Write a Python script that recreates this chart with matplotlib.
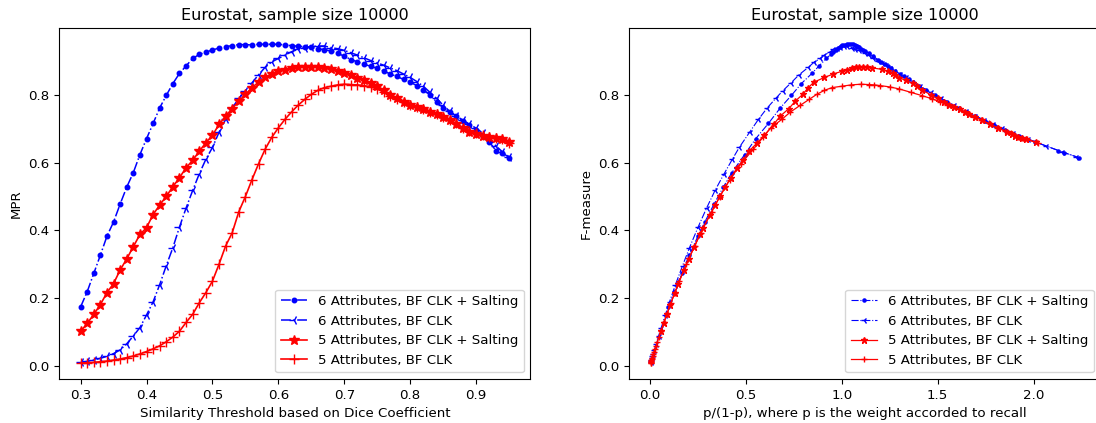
import matplotlib
matplotlib.use("Agg")
import matplotlib.pyplot as plt

# similarity thresholds (Dice coefficient)
thresholds = [0.30, 0.31, 0.32, 0.33, 0.34, 0.35, 0.36, 0.37, 0.38, 0.39,
              0.40, 0.41, 0.42, 0.43, 0.44, 0.45, 0.46, 0.47, 0.48, 0.49,
              0.50, 0.51, 0.52, 0.53, 0.54, 0.55, 0.56, 0.57, 0.58, 0.59,
              0.60, 0.61, 0.62, 0.63, 0.64, 0.65, 0.66, 0.67, 0.68, 0.69,
              0.70, 0.71, 0.72, 0.73, 0.74, 0.75, 0.76, 0.77, 0.78, 0.79,
              0.80, 0.81, 0.82, 0.83, 0.84, 0.85, 0.86, 0.87, 0.88, 0.89,
              0.90, 0.91, 0.92, 0.93, 0.94, 0.95]

# 6 attributes, BF CLK + salting
six_salt_f = [0.174, 0.219, 0.273, 0.327, 0.383, 0.425, 0.478, 0.528, 0.571, 0.624,
              0.671, 0.716, 0.762, 0.799, 0.834, 0.864, 0.886, 0.908, 0.920, 0.927,
              0.933, 0.939, 0.943, 0.946, 0.949, 0.949, 0.948, 0.950, 0.950, 0.950,
              0.950, 0.948, 0.946, 0.944, 0.943, 0.941, 0.937, 0.934, 0.930, 0.923,
              0.915, 0.905, 0.898, 0.891, 0.885, 0.879, 0.871, 0.862, 0.855, 0.846,
              0.838, 0.828, 0.816, 0.800, 0.780, 0.762, 0.750, 0.738, 0.724, 0.712,
              0.698, 0.680, 0.662, 0.636, 0.630, 0.615]
six_salt_ratio = [0.097, 0.128, 0.166, 0.206, 0.251, 0.287, 0.335, 0.383, 0.428, 0.494,
                  0.552, 0.618, 0.680, 0.738, 0.790, 0.845, 0.882, 0.920, 0.943, 0.956,
                  0.970, 0.982, 0.990, 0.996, 1.002, 1.010, 1.020, 1.030, 1.040, 1.050,
                  1.060, 1.068, 1.074, 1.081, 1.085, 1.091, 1.102, 1.111, 1.123, 1.141,
                  1.162, 1.188, 1.205, 1.224, 1.240, 1.257, 1.278, 1.304, 1.323, 1.350,
                  1.372, 1.401, 1.439, 1.488, 1.551, 1.612, 1.653, 1.696, 1.749, 1.795,
                  1.851, 1.926, 2.006, 2.129, 2.159, 2.236]

# 6 attributes, BF CLK
six_f = [0.010, 0.013, 0.017, 0.022, 0.028, 0.036, 0.047, 0.065, 0.088, 0.113,
         0.150, 0.189, 0.240, 0.296, 0.349, 0.410, 0.466, 0.518, 0.567, 0.610,
         0.645, 0.690, 0.728, 0.762, 0.790, 0.812, 0.836, 0.860, 0.882, 0.898,
         0.908, 0.918, 0.928, 0.935, 0.940, 0.943, 0.945, 0.945, 0.940, 0.937,
         0.932, 0.925, 0.918, 0.910, 0.902, 0.895, 0.888, 0.880, 0.872, 0.862,
         0.852, 0.840, 0.826, 0.808, 0.790, 0.770, 0.752, 0.738, 0.726, 0.714,
         0.702, 0.688, 0.670, 0.650, 0.632, 0.618]
six_ratio = [0.005, 0.007, 0.009, 0.011, 0.014, 0.018, 0.024, 0.034, 0.046, 0.060,
             0.081, 0.103, 0.134, 0.171, 0.207, 0.252, 0.296, 0.340, 0.387, 0.430,
             0.466, 0.520, 0.566, 0.612, 0.656, 0.692, 0.736, 0.778, 0.826, 0.858,
             0.888, 0.910, 0.940, 0.957, 0.975, 0.990, 1.010, 1.030, 1.053, 1.070,
             1.092, 1.119, 1.142, 1.165, 1.188, 1.210, 1.230, 1.252, 1.275, 1.304,
             1.333, 1.367, 1.409, 1.463, 1.519, 1.584, 1.646, 1.696, 1.741, 1.787,
             1.835, 1.892, 1.970, 2.062, 2.149, 2.220]

# 5 attributes, BF CLK + salting
five_salt_f = [0.102, 0.125, 0.152, 0.181, 0.216, 0.243, 0.283, 0.316, 0.352, 0.388,
               0.408, 0.447, 0.475, 0.501, 0.529, 0.556, 0.585, 0.607, 0.634, 0.659,
               0.681, 0.713, 0.738, 0.760, 0.782, 0.802, 0.822, 0.838, 0.852, 0.862,
               0.870, 0.875, 0.879, 0.882, 0.883, 0.883, 0.882, 0.880, 0.876, 0.870,
               0.864, 0.858, 0.851, 0.843, 0.835, 0.826, 0.815, 0.800, 0.790, 0.780,
               0.772, 0.765, 0.758, 0.751, 0.744, 0.736, 0.726, 0.714, 0.702, 0.692,
               0.686, 0.680, 0.677, 0.674, 0.670, 0.661]
five_salt_ratio = [0.058, 0.072, 0.089, 0.107, 0.131, 0.149, 0.178, 0.203, 0.232, 0.262,
                   0.279, 0.314, 0.341, 0.366, 0.394, 0.423, 0.455, 0.484, 0.517, 0.560,
                   0.597, 0.645, 0.680, 0.725, 0.758, 0.797, 0.826, 0.855, 0.910, 0.955,
                   1.000, 1.028, 1.055, 1.076, 1.090, 1.110, 1.130, 1.160, 1.210, 1.240,
                   1.265, 1.280, 1.300, 1.335, 1.370, 1.390, 1.420, 1.465, 1.500, 1.535,
                   1.560, 1.585, 1.615, 1.640, 1.665, 1.695, 1.730, 1.770, 1.815, 1.860,
                   1.885, 1.905, 1.920, 1.940, 1.960, 2.010]

# 5 attributes, BF CLK
five_f = [0.008, 0.009, 0.010, 0.012, 0.014, 0.017, 0.020, 0.024, 0.029, 0.035,
          0.042, 0.050, 0.059, 0.071, 0.085, 0.102, 0.128, 0.152, 0.186, 0.216,
          0.250, 0.300, 0.354, 0.393, 0.455, 0.500, 0.550, 0.597, 0.640, 0.675,
          0.703, 0.728, 0.750, 0.770, 0.787, 0.802, 0.814, 0.822, 0.826, 0.830,
          0.832, 0.831, 0.830, 0.828, 0.824, 0.818, 0.808, 0.798, 0.789, 0.780,
          0.772, 0.765, 0.758, 0.751, 0.744, 0.736, 0.727, 0.716, 0.704, 0.694,
          0.687, 0.681, 0.677, 0.673, 0.669, 0.658]
five_ratio = [0.004, 0.005, 0.005, 0.007, 0.008, 0.009, 0.011, 0.013, 0.016, 0.019,
              0.023, 0.028, 0.033, 0.040, 0.048, 0.058, 0.074, 0.089, 0.110, 0.131,
              0.154, 0.191, 0.234, 0.266, 0.322, 0.365, 0.417, 0.475, 0.540, 0.590,
              0.630, 0.688, 0.733, 0.785, 0.830, 0.870, 0.910, 0.950, 1.000, 1.050,
              1.100, 1.140, 1.170, 1.200, 1.250, 1.300, 1.360, 1.420, 1.470, 1.510,
              1.550, 1.580, 1.610, 1.635, 1.660, 1.690, 1.725, 1.765, 1.810, 1.850,
              1.880, 1.900, 1.920, 1.940, 1.965, 2.020]

labels = ["6 Attributes, BF CLK + Salting", "6 Attributes, BF CLK",
          "5 Attributes, BF CLK + Salting", "5 Attributes, BF CLK"]
title = "Eurostat, sample size 10000"

plt.rcParams['font.size'] = 9.6

fig = plt.figure(figsize=(10.96, 4.23), dpi=100)
ax1 = fig.add_axes([0.054, 0.104, 0.430, 0.829])
ax2 = fig.add_axes([0.574, 0.104, 0.430, 0.829])

# left: score vs threshold
ax1.plot(thresholds, six_salt_f, 'b.-.', lw=1.1, ms=6.5, label=labels[0])
ax1.plot(thresholds, six_f, 'b3-.', lw=1.1, ms=6.5, label=labels[1])
ax1.plot(thresholds, five_salt_f, 'r*-', lw=1.2, ms=7, label=labels[2])
ax1.plot(thresholds, five_f, 'r+-', lw=1.2, ms=6.5, label=labels[3])
ax1.set_title(title, fontsize=11.5)
ax1.set_xlabel("Similarity Threshold based on Dice Coefficient")
ax1.set_ylabel("MPR")
ax1.legend(loc="lower right")

# right: F-measure vs p/(1-p)
ax2.plot(six_salt_ratio, six_salt_f, 'b.-.', lw=0.8, ms=4.5, label=labels[0])
ax2.plot(six_ratio, six_f, 'b3-.', lw=0.8, ms=4.5, label=labels[1])
ax2.plot(five_salt_ratio, five_salt_f, 'r*-', lw=0.9, ms=5, label=labels[2])
ax2.plot(five_ratio, five_f, 'r+-', lw=0.9, ms=5, label=labels[3])
ax2.set_title(title, fontsize=11.5)
ax2.set_xlabel("p/(1-p), where p is the weight accorded to recall")
ax2.set_ylabel("F-measure")
ax2.legend(loc="lower right")

fig.savefig("out.png", dpi=100)
